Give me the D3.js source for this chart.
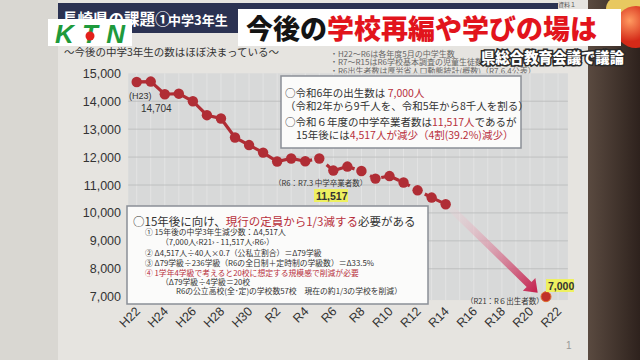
<!DOCTYPE html>
<html><head><meta charset="utf-8">
<script src="https://cdn.jsdelivr.net/npm/d3@7"></script>
<style>body{margin:0;background:#dedcd7}svg{display:block}</style>
</head><body><svg id="c" width="640" height="360"></svg>
<script>
// ---- data ----
const years = [2010,2011,2012,2013,2014,2015,2016,2017,2018,2019,2020,2021,2022,2023,2024,2025,2026,2027,2028,2029,2030,2031,2032];
const students = [14690,14704,14250,14270,14000,13500,13380,12700,12430,12160,11840,11950,11850,11950,11517,11660,11500,11230,11320,11090,10810,10550,10310];
const birthYears = [2039];
const birthValues = [7000];
const tickYears = [2010,2012,2014,2016,2018,2020,2022,2024,2026,2028,2030,2032,2034,2036,2038,2040];
const tickLabels = ["H22","H24","H26","H28","H30","R2","R4","R6","R8","R10","R12","R14","R16","R18","R20","R22"];
const yTicks = [7000,8000,9000,10000,11000,12000,13000,14000,15000];
const solidUntil = 2022;

const JP = "'Noto Sans CJK JP', sans-serif";
const LAT = "'Liberation Sans', Arial, sans-serif";
const RED = "#b8303c";

const svg = d3.select("#c");
const defs = svg.append("defs");

// ---- background ----
svg.append("rect").attr("width",640).attr("height",360).attr("fill","#d9d7d2");
svg.append("rect").attr("x",58).attr("y",0).attr("width",530).attr("height",360).attr("fill","#e6e4e0");
const wood = defs.append("linearGradient").attr("id","wood").attr("x1",0).attr("x2",1);
wood.append("stop").attr("offset",0).attr("stop-color","#5a4a40");
wood.append("stop").attr("offset",1).attr("stop-color","#2e221d");
svg.append("rect").attr("x",588).attr("y",0).attr("width",52).attr("height",360).attr("fill","url(#wood)");

// board header
svg.append("rect").attr("x",58).attr("y",3).attr("width",500).attr("height",30).attr("fill","#2b3252");
const bt = svg.append("text").attr("x",62).attr("y",25).attr("fill","#fff").attr("font-family",JP).attr("font-weight",700);
bt.append("tspan").attr("font-size",15.5).text("長崎県の課題①");
bt.append("tspan").attr("x",168).attr("font-size",13).text("中学3年生");
svg.append("text").attr("x",558).attr("y",7).attr("fill","#555").attr("font-family",JP).attr("font-size",6).text("資料１");

svg.append("text").attr("x",64).attr("y",56).attr("fill","#333").attr("font-family",JP).attr("font-size",10.5)
  .text("〜今後の中学3年生の数はほぼ決まっている〜");
const notes = ["・H22～R6は各年度5月の中学生数","・R7～R15はR6学校基本調査の児童生徒数","・R6出生者数は厚労省人口動態統計(概数)（R7.6.4公表）"];
notes.forEach((t,i)=>svg.append("text").attr("x",330).attr("y",56.5+i*8.6).attr("fill","#666")
  .attr("font-family",JP).attr("font-size",8).text(t));

// ---- scales ----
const x = d3.scaleLinear().domain([2010,2039]).range([136.7,544]);
const y = d3.scaleLinear().domain([7000,15000]).range([296.7,73.3]);

// plot area
svg.append("rect").attr("x",x(2009.4)).attr("y",y(15000)).attr("width",x(2040.7)-x(2009.4))
  .attr("height",y(6880)-y(15000)).attr("fill","#d8d9d9");
const grid = svg.append("g");
grid.selectAll("line.v").data(d3.range(2010,2041)).join("line")
  .attr("x1",d=>x(d)).attr("x2",d=>x(d)).attr("y1",y(15000)).attr("y2",y(6880))
  .attr("stroke","#e6e6e6").attr("stroke-width",0.8);
grid.selectAll("line.h").data(yTicks.slice(1,-1)).join("line")
  .attr("x1",x(2009.4)).attr("x2",x(2040.7)).attr("y1",d=>y(d)).attr("y2",d=>y(d))
  .attr("stroke","#b9baba").attr("stroke-width",0.8);

// y axis
const ya = svg.append("g").attr("transform","translate(121,0)")
  .call(d3.axisLeft(y).tickValues(yTicks).tickFormat(d3.format(",")).tickSize(0).tickPadding(0));
ya.select(".domain").remove();
ya.selectAll("text").attr("font-family",LAT).attr("font-size",12.5).attr("fill","#333");

// x axis labels: diagonal text along paths ending at each tick (positioned by x scale)
const c45 = Math.SQRT1_2, off = 4.4;
tickYears.forEach((d,i)=>{
  const ex = x(d) + 1 + off*c45, ey = 309 + off*c45;
  defs.append("path").attr("id","xlp"+i)
    .attr("d",`M${ex-40*c45},${ey+40*c45}L${ex},${ey}`);
});
const xl = svg.append("g").selectAll("text.xl").data(tickYears).join("text")
  .attr("class","xl").attr("font-family",LAT).attr("font-size",12.5).attr("fill","#333");
xl.append("textPath").attr("href",(d,i)=>"#xlp"+i).attr("startOffset","100%")
  .attr("text-anchor","end").text((d,i)=>tickLabels[i]);

function rich(x0,y0,parts,size,weight){
  const t = svg.append("text").attr("x",x0).attr("y",y0).attr("font-family",JP).attr("font-size",size)
    .attr("font-weight",weight||400);
  parts.forEach(p=>t.append("tspan").attr("fill",p[1]||"#333").text(p[0]));
  return t;
}

// ---- series ----
const line = d3.line().x(d=>x(d[0])).y(d=>y(d[1]));
const pts = years.map((yr,i)=>[yr,students[i]]);
svg.append("path").datum(pts.filter(d=>d[0]<=solidUntil)).attr("d",line)
  .attr("fill","none").attr("stroke","#b02d35").attr("stroke-width",3.2);
svg.append("path").datum(pts.filter(d=>d[0]>=solidUntil)).attr("d",line)
  .attr("fill","none").attr("stroke","#b02d35").attr("stroke-width",3.2).attr("stroke-dasharray","7,5");
svg.selectAll("circle.p").data(pts).join("circle")
  .attr("cx",d=>x(d[0])).attr("cy",d=>y(d[1])).attr("r",5.2).attr("fill","#b02d35");

// arrow
const p1=[x(2032.35),y(10180)], p2=[x(2038.55),y(7140)];
const L=Math.hypot(p2[0]-p1[0],p2[1]-p1[1]), ang=Math.atan2(p2[1]-p1[1],p2[0]-p1[0])*180/Math.PI;
const ag = defs.append("linearGradient").attr("id","arr").attr("gradientUnits","userSpaceOnUse")
  .attr("x1",0).attr("y1",0).attr("x2",L).attr("y2",0);
ag.append("stop").attr("offset",0).attr("stop-color","#f0d0d6").attr("stop-opacity",0.2);
ag.append("stop").attr("offset",0.5).attr("stop-color","#d98aa0").attr("stop-opacity",0.75);
ag.append("stop").attr("offset",1).attr("stop-color","#c41e4c");
svg.append("path").attr("transform",`translate(${p1[0]},${p1[1]}) rotate(${ang})`)
  .attr("d",`M0,-3.5L${L-12},-3.5L${L-12},-9L${L},0L${L-12},9L${L-12},3.5L0,3.5Z`).attr("fill","url(#arr)");

svg.selectAll("circle.b").data(birthYears.map((yr,i)=>[yr,birthValues[i]])).join("circle")
  .attr("cx",d=>x(d[0])+2).attr("cy",d=>y(d[1])).attr("r",5).attr("fill","#c0302a")
  .attr("stroke","#e07030").attr("stroke-width",1);

// annotations
svg.append("text").attr("x",129).attr("y",99).attr("font-family",LAT).attr("font-size",9).attr("fill","#333").text("(H23)");
svg.append("text").attr("x",141).attr("y",112).attr("font-family",LAT).attr("font-size",10).attr("fill","#333").text("14,704");

svg.append("text").attr("x",274).attr("y",186).attr("font-family",JP).attr("font-size",7.5).attr("fill","#333")
  .text("（R6：R7.3 中学卒業者数）");
svg.append("rect").attr("x",314).attr("y",189).attr("width",34).attr("height",13).attr("fill","#eef060");
svg.append("text").attr("x",316).attr("y",200).attr("font-family",LAT).attr("font-weight",700).attr("font-size",10.5).attr("fill","#333").text("11,517");

svg.append("rect").attr("x",546).attr("y",279).attr("width",28).attr("height",13).attr("fill","#eef060");
svg.append("text").attr("x",548).attr("y",290).attr("font-family",LAT).attr("font-weight",700).attr("font-size",10.5).attr("fill","#333").text("7,000");
svg.append("text").attr("x",466).attr("y",304).attr("font-family",JP).attr("font-size",7.5).attr("fill","#333")
  .text("（R21：R６出生者数）");

// box 1
svg.append("rect").attr("x",281).attr("y",76).attr("width",240).attr("height",72).attr("fill","#fbfbfa")
  .attr("stroke","#8a8f96").attr("stroke-width",1.5);
rich(285,97,[["○令和6年の出生数は "],["7,000人",RED]],10.5);
rich(285,110,[["（令和2年から9千人を、令和5年から8千人を割る）"]],10.5);
rich(285,126,[["○令和６年度の中学卒業者数は"],["11,517人",RED],["であるが"]],10.5);
rich(296,139,[["15年後には"],["4,517人が減少",RED],["（4割",RED],["(39.2%)",RED],["減少）",RED]],10.5);

// box 2
svg.append("rect").attr("x",127).attr("y",206).attr("width",301).attr("height",98).attr("fill","#fbfbfa")
  .attr("stroke","#8a8f96").attr("stroke-width",1.5);
rich(133,226,[["○15年後に向け、"],["現行の定員から1/3減する",RED],["必要がある"]],11.5);
rich(145,235,[["① 15年後の中学3年生減少数：Δ4,517人"]],7.8);
rich(161,245,[["（7,000人‹R21› - 11,517人‹R6›）"]],7.8);
rich(145,256,[["② Δ4,517人÷40人×0.7（公私立割合）＝Δ79学級"]],7.8);
rich(145,266,[["③ Δ79学級÷236学級（R6の全日制＋定時制の学級数）＝Δ33.5%"]],7.8);
rich(145,276,[["④ 1学年4学級で考えると20校に想定する規模感で削減が必要",RED]],7.8);
rich(161,285,[["（Δ79学級÷4学級＝20校"]],7.8);
rich(176,294,[["R6の公立高校(全･定)の学校数57校　現在の約1/3の学校を削減）"]],7.8);

svg.append("text").attr("x",566).attr("y",349).attr("font-family",LAT).attr("font-size",10).attr("fill","#999").text("1");

// ---- TV overlays ----
svg.append("ellipse").attr("cx",628).attr("cy",8).attr("rx",22).attr("ry",14).attr("fill","#e8c860");
const ball = defs.append("radialGradient").attr("id","ball").attr("cx",0.35).attr("cy",0.35);
ball.append("stop").attr("offset",0).attr("stop-color","#ff9a60");
ball.append("stop").attr("offset",1).attr("stop-color","#d42a18");
svg.append("circle").attr("cx",636).attr("cy",27).attr("r",21).attr("fill","url(#ball)");
svg.append("rect").attr("x",238).attr("y",9).attr("width",383).attr("height",37).attr("fill","#fff");
const tt = svg.append("text").attr("x",246).attr("y",39).attr("font-family",JP).attr("font-weight",900).attr("font-size",27);
tt.append("tspan").attr("fill","#141414").text("今後の");
tt.append("tspan").attr("fill","#e2141c").text("学校再編や学びの場は");
svg.append("text").attr("x",481).attr("y",63).attr("font-family",JP).attr("font-weight",900).attr("font-size",14.3)
  .attr("fill","#fff").attr("stroke","#2a2a2a").attr("stroke-width",3).attr("paint-order","stroke")
  .text("県総合教育会議で議論");

// KTN logo
svg.append("rect").attr("x",48).attr("y",19).attr("width",84).attr("height",27).attr("fill","#fff");
svg.append("text").attr("x",55).attr("y",43).attr("font-family",LAT).attr("font-weight",700).attr("font-style","italic")
  .attr("font-size",26).attr("fill","#1e9a3c").attr("textLength",70).text("KTN");
svg.append("circle").attr("cx",90).attr("cy",36).attr("r",4.5).attr("fill","#e3201b");
</script></body></html>
